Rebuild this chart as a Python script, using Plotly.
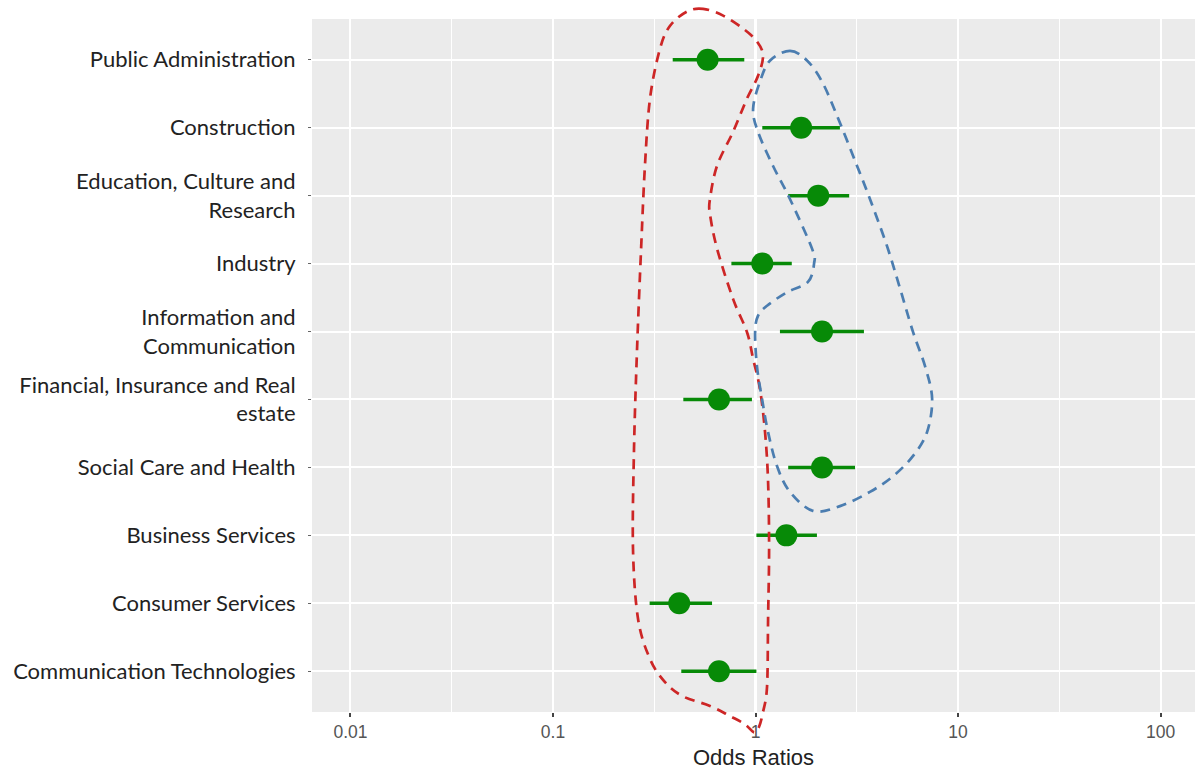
import numpy as np
import plotly.graph_objects as go

# Forest plot: odds ratios with 95% confidence intervals by sector
sectors = [
    "Public Administration",
    "Construction",
    "Education, Culture and<br>Research",
    "Industry",
    "Information and<br>Communication",
    "Financial, Insurance and Real<br>estate",
    "Social Care and Health",
    "Business Services",
    "Consumer Services",
    "Communication Technologies",
]
odds_ratio = [0.58, 1.68, 2.04, 1.08, 2.13, 0.66, 2.13, 1.42, 0.42, 0.66]
ci_lower = [0.39, 1.08, 1.45, 0.76, 1.32, 0.44, 1.45, 1.01, 0.30, 0.43]
ci_upper = [0.88, 2.61, 2.90, 1.51, 3.43, 0.96, 3.10, 2.01, 0.61, 1.01]

tick_values = [0.01, 0.1, 1, 10, 100]
tick_labels = ["0.01", "0.1", "1", "10", "100"]
minor_values = [10 ** -1.5, 10 ** -0.5, 10 ** 0.5, 10 ** 1.5]

# Hand-drawn highlight outlines: (log10 odds ratio, row position) vertices
red_outline_logx = [-0.259, -0.338, -0.422, -0.472, -0.521, -0.546, -0.565, -0.585, -0.600, -0.605,
                    -0.580, -0.521, -0.447, -0.358, -0.225, -0.126, -0.052, -0.007, 0.017, 0.037,
                    0.057, 0.062, 0.067, 0.062, 0.047, 0.022, -0.012, -0.042, -0.111, -0.190,
                    -0.225, -0.225, -0.190, -0.111, -0.042, 0.012, 0.037, 0.007, -0.062, -0.160]
red_outline_row = [-0.75, -0.71, -0.50, -0.16, 0.57, 1.56, 2.78, 4.26, 5.73, 7.20,
                   8.23, 8.82, 9.16, 9.37, 9.51, 9.66, 9.78, 9.90, 9.82, 9.60,
                   9.22, 8.23, 7.20, 6.21, 5.48, 4.85, 4.40, 4.01, 3.52, 2.78,
                   2.27, 2.05, 1.56, 1.06, 0.57, 0.24, -0.06, -0.27, -0.46, -0.65]

blue_outline_logx = [0.170, 0.254, 0.328, 0.402, 0.501, 0.565, 0.649, 0.714, 0.778, 0.837,
                     0.872, 0.847, 0.778, 0.679, 0.565, 0.417, 0.284, 0.170, 0.106, 0.062,
                     0.032, 0.007, -0.002, 0.012, 0.057, 0.156, 0.259, 0.289, 0.279, 0.170,
                     0.086, 0.012, -0.012, 0.022, 0.072]
blue_outline_row = [-0.13, 0.01, 0.32, 0.82, 1.56, 2.05, 2.74, 3.37, 4.01, 4.51,
                    4.99, 5.48, 5.83, 6.13, 6.36, 6.57, 6.64, 6.36, 5.98, 5.48,
                    4.99, 4.51, 4.01, 3.77, 3.62, 3.42, 3.27, 3.00, 2.78, 2.05,
                    1.56, 1.06, 0.72, 0.32, 0.01]

X_RANGE = [-2.19, 2.17]          # log10 units
Y_RANGE = [len(sectors) - 0.4, -0.6]

rows = list(range(len(sectors)))
err_plus = [u - o for u, o in zip(ci_upper, odds_ratio)]
err_minus = [o - l for o, l in zip(odds_ratio, ci_lower)]

GREEN = "#078A07"

fig = go.Figure()
fig.add_trace(go.Scatter(
    x=odds_ratio, y=rows, mode="markers",
    marker=dict(size=22, color=GREEN),
    error_x=dict(type="data", symmetric=False, array=err_plus, arrayminus=err_minus,
                 color=GREEN, thickness=3.5, width=0),
    showlegend=False, hoverinfo="x",
))


def to_paper(logx, row):
    px = (np.asarray(logx) - X_RANGE[0]) / (X_RANGE[1] - X_RANGE[0])
    py = (Y_RANGE[0] - np.asarray(row)) / (Y_RANGE[0] - Y_RANGE[1])
    return px, py


def smooth_closed_path(xs, ys):
    """Closed Catmull-Rom curve through the vertices, as an SVG path."""
    n = len(xs)
    pts = np.column_stack([xs, ys])
    d = f"M {pts[0,0]:.5f},{pts[0,1]:.5f}"
    for i in range(n):
        p0, p1, p2, p3 = pts[(i - 1) % n], pts[i], pts[(i + 1) % n], pts[(i + 2) % n]
        c1 = p1 + (p2 - p0) / 6
        c2 = p2 - (p3 - p1) / 6
        d += f" C {c1[0]:.5f},{c1[1]:.5f} {c2[0]:.5f},{c2[1]:.5f} {p2[0]:.5f},{p2[1]:.5f}"
    return d + " Z"


shapes = [
    # reference line at odds ratio 1
    dict(type="line", xref="x", yref="paper", x0=1, x1=1, y0=0, y1=1,
         line=dict(color="white", width=3), layer="between"),
]
for lx, ly, col in [(red_outline_logx, red_outline_row, "#CD2626"),
                    (blue_outline_logx, blue_outline_row, "#4B7DB0")]:
    px, py = to_paper(lx, ly)
    shapes.append(dict(type="path", xref="paper", yref="paper",
                       path=smooth_closed_path(px, py),
                       line=dict(color=col, width=2.7, dash="10px,7px"),
                       layer="above"))

fig.update_layout(
    width=1195, height=771,
    margin=dict(l=312, r=0, t=19, b=59),
    paper_bgcolor="white",
    plot_bgcolor="#EBEBEB",
    shapes=shapes,
    xaxis=dict(
        type="log", range=X_RANGE,
        tickvals=tick_values, ticktext=tick_labels,
        showgrid=True, gridcolor="white", gridwidth=1.6,
        minor=dict(tickvals=minor_values, showgrid=True, gridcolor="white", gridwidth=0.8, ticks=""),
        zeroline=False, showline=False,
        ticks="outside", ticklen=4, tickwidth=1.5, tickcolor="#444",
        tickfont=dict(family="Liberation Sans, Arial, sans-serif", size=17.5, color="#555"),
        title=dict(text="Odds Ratios", standoff=8,
                   font=dict(family="Liberation Sans, Arial, sans-serif", size=22, color="#222")),
    ),
    yaxis=dict(
        range=Y_RANGE, tickvals=rows, ticktext=sectors,
        showgrid=True, gridcolor="white", gridwidth=1.6,
        zeroline=False, showline=False,
        ticks="outside", ticklen=3, tickwidth=1, tickcolor="#666",
        ticklabelstandoff=8,
        tickfont=dict(family="Lato, sans-serif", size=22, color="#222"),
    ),
)

fig.write_html("out.html")
